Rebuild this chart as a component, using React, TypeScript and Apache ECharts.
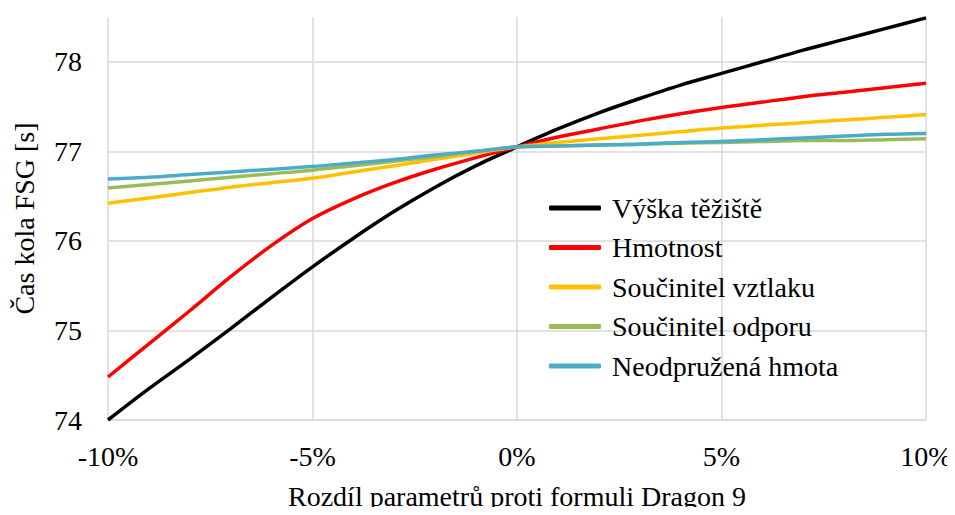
import React, { useEffect, useRef } from "react";
import * as echarts from "echarts";

const xValues = [-10, -9, -8, -7, -6, -5, -4, -3, -2, -1, 0, 1, 2, 3, 4, 5, 6, 7, 8, 9, 10];
const seriesNames = ["Výška těžiště", "Hmotnost", "Součinitel vztlaku", "Součinitel odporu", "Neodpružená hmota"];
const vyskaTeziste = [74.0, 74.35, 74.68, 75.02, 75.37, 75.71, 76.03, 76.33, 76.6, 76.84, 77.05, 77.25, 77.43, 77.59, 77.74, 77.87, 78.0, 78.13, 78.25, 78.37, 78.49];
const hmotnost = [74.48, 74.85, 75.22, 75.6, 75.95, 76.25, 76.47, 76.65, 76.8, 76.93, 77.05, 77.16, 77.25, 77.34, 77.42, 77.49, 77.55, 77.61, 77.66, 77.71, 77.76];
const soucVztlaku = [76.42, 76.48, 76.54, 76.6, 76.65, 76.7, 76.77, 76.84, 76.91, 76.98, 77.05, 77.1, 77.14, 77.18, 77.22, 77.26, 77.29, 77.32, 77.35, 77.38, 77.41];
const soucOdporu = [76.59, 76.63, 76.67, 76.71, 76.75, 76.79, 76.84, 76.89, 76.94, 77.0, 77.05, 77.06, 77.07, 77.08, 77.09, 77.1, 77.11, 77.12, 77.12, 77.13, 77.14];
const neodpruzena = [76.69, 76.71, 76.74, 76.77, 76.8, 76.83, 76.87, 76.91, 76.96, 77.0, 77.05, 77.06, 77.07, 77.08, 77.1, 77.11, 77.13, 77.15, 77.17, 77.19, 77.2];
const colors = ["#000000", "#FF0000", "#FFC000", "#9BBB59", "#4BACC6"];
const xAxisTitle = "Rozdíl parametrů proti formuli Dragon 9";
const yAxisTitle = "Čas kola FSG [s]";

const FONT = "Liberation Serif";

export default function App() {
  const ref = useRef<HTMLDivElement>(null);
  useEffect(() => {
    if (!ref.current) return;
    const chart = echarts.init(ref.current, null, { renderer: "svg" });
    const allData = [vyskaTeziste, hmotnost, soucVztlaku, soucOdporu, neodpruzena];
    chart.setOption({
      animation: false,
      textStyle: { fontFamily: FONT },
      grid: { left: 108, right: 29, top: 17, bottom: 92 },
      legend: {
        orient: "vertical",
        left: 544,
        top: 189,
        icon: "roundRect",
        itemWidth: 52,
        itemHeight: 5,
        itemGap: 11.5,
        textStyle: { fontFamily: FONT, fontSize: 28, color: "#000", lineHeight: 28, padding: [0, 0, 0, 6] },
        data: seriesNames,
      },
      xAxis: {
        type: "value",
        min: -10,
        max: 10,
        interval: 5,
        name: xAxisTitle,
        nameLocation: "middle",
        nameGap: 62,
        nameTextStyle: { fontFamily: FONT, fontSize: 28, color: "#000" },
        axisLine: { show: true, lineStyle: { color: "#d9d9d9", width: 1.5 } },
        axisTick: { show: false },
        axisLabel: { formatter: (v: number) => v + "%", fontFamily: FONT, fontSize: 28, color: "#000", margin: 22 },
        splitLine: { show: true, lineStyle: { color: "#d9d9d9", width: 1.5 } },
      },
      yAxis: {
        type: "value",
        min: 74,
        max: 78.5,
        interval: 1,
        name: yAxisTitle,
        nameLocation: "middle",
        nameGap: 70,
        nameTextStyle: { fontFamily: FONT, fontSize: 28, color: "#000" },
        axisLine: { show: false },
        axisTick: { show: false },
        axisLabel: { fontFamily: FONT, fontSize: 28, color: "#000", margin: 26, showMaxLabel: false },
        splitLine: { show: true, showMaxLine: false, lineStyle: { color: "#d9d9d9", width: 1.5 } },
      },
      series: seriesNames.map((name, i) => ({
        name,
        type: "line",
        smooth: 0.3,
        symbol: "none",
        color: colors[i],
        lineStyle: { color: colors[i], width: 3.5 },
        data: xValues.map((x, j) => [x, allData[i][j]]),
      })),
    });
    return () => chart.dispose();
  }, []);
  return <div ref={ref} style={{ width: 955, height: 515, margin: -8 }} />;
}
